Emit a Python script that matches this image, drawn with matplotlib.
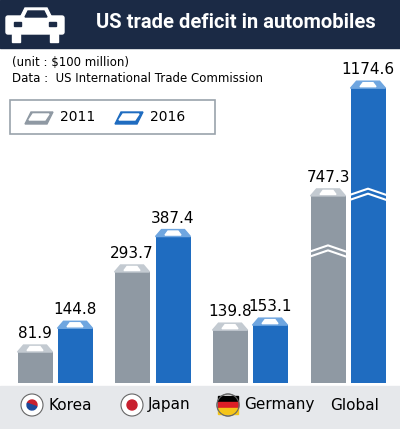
import matplotlib
matplotlib.use("Agg")
import matplotlib.pyplot as plt
from matplotlib.patches import Rectangle, Circle, FancyBboxPatch, Polygon, Wedge

countries = ["Korea", "Japan", "Germany", "Global"]
v2011 = [81.9, 293.7, 139.8, 747.3]
v2016 = [144.8, 387.4, 153.1, 1174.6]
labels_2011 = ["81.9", "293.7", "139.8", "747.3"]
labels_2016 = ["144.8", "387.4", "153.1", "1174.6"]

GREY = "#8f99a3"; GREY_TOP = "#c3cad1"
BLUE = "#1f6cc0"; BLUE_TOP = "#6fa6e0"
NAVY = "#1b2a45"

def disp(v):  # broken axis for large values
    return v if v <= 420 else 0.667 * v - 3.5

fig = plt.figure(figsize=(4.0, 4.29), dpi=100)
ov = fig.add_axes([0, 0, 1, 1]); ov.set_xlim(0, 400); ov.set_ylim(429, 0); ov.axis("off")
ov.add_patch(Rectangle((0, 0), 400, 48, color=NAVY))
ov.text(236, 22, "US trade deficit in automobiles", color="white", fontsize=14.5,
        fontweight="bold", ha="center", va="center", family="Roboto", stretch="condensed")
ov.add_patch(FancyBboxPatch((8, 18), 54, 14, boxstyle="round,pad=2", color="white"))
ov.add_patch(Polygon([(20, 18), (25, 8), (47, 8), (52, 18)], color="white"))
ov.add_patch(Polygon([(25, 17), (28, 11), (44, 11), (47, 17)], color=NAVY))
ov.add_patch(Rectangle((14, 22), 7, 4, color=NAVY)); ov.add_patch(Rectangle((49, 22), 7, 4, color=NAVY))
ov.add_patch(Rectangle((12, 34), 8, 8, color="white")); ov.add_patch(Rectangle((50, 34), 8, 8, color="white"))
ov.text(12, 62, "(unit : $100 million)", fontsize=8.5, va="center")
ov.text(12, 79, "Data :  US International Trade Commission", fontsize=8.5, va="center")
ov.add_patch(Rectangle((10, 100), 205, 34, fill=False, ec="#9aa3ab", lw=1.2))
for x, c, ct, t in [(25, GREY, GREY_TOP, "2011"), (115, BLUE, BLUE_TOP, "2016")]:
    ov.add_patch(Polygon([(x, 124), (x + 22, 124), (x + 28, 112), (x + 6, 112)], color=c))
    ov.add_patch(Polygon([(x + 4, 120), (x + 20, 120), (x + 24, 114), (x + 8, 114)], color="white"))
    ov.text(x + 35, 117, t, fontsize=10, va="center")
ov.add_patch(Rectangle((0, 386), 400, 43, color="#e6e8eb"))
for fx in [32, 132, 228]:
    ov.add_patch(Circle((fx, 405), 11, color="white", ec="#666", lw=0.8))
ov.add_patch(Wedge((32, 405), 5, 200, 20, color="#c8202f")); ov.add_patch(Wedge((32, 405), 5, 20, 200, color="#1d4a9a"))
ov.add_patch(Circle((132, 405), 5, color="#c8202f"))
ov.add_patch(Rectangle((218, 396), 20, 6, color="black")); ov.add_patch(Rectangle((218, 402), 20, 6, color="#dd1f26"))
ov.add_patch(Rectangle((218, 408), 20, 6, color="#f5c518"))
ov.add_patch(Circle((228, 405), 11, fill=False, ec="#666", lw=0.8))
for x, t in [(48, "Korea"), (148, "Japan"), (244, "Germany"), (330, "Global")]:
    ov.text(x, 405, t, fontsize=11, va="center")

base = 383; top_px = 60
ax = fig.add_axes([0, (429 - base) / 429, 1, (base - top_px) / 429])
ax.set_xlim(0, 400); ax.set_ylim(0, (base - top_px) / 0.378); ax.axis("off")
ax.patch.set_alpha(0)
upx = 1 / 0.378
centers = [(35, 75), (132, 173), (230, 270), (328, 368)]
w = 35
for i in range(4):
    for cx, v, lab, c, ct, yb in [(centers[i][0], v2011[i], labels_2011[i], GREY, GREY_TOP, 335),
                                  (centers[i][1], v2016[i], labels_2016[i], BLUE, BLUE_TOP, 485)]:
        h = disp(v)
        ax.bar(cx, h, width=w, color=c)
        d = 7 * upx
        ax.fill([cx - w / 2, cx + w / 2, cx + w / 2 - 6, cx - w / 2 + 6],
                [h, h, h + d, h + d], color=ct)
        ax.fill([cx - 8, cx + 8, cx + 5, cx - 5], [h + 1.5 * upx, h + 1.5 * upx, h + 5.5 * upx, h + 5.5 * upx],
                color="white")
        ax.text(cx, h + d + 4 * upx, lab, ha="center", va="bottom", fontsize=11)
        if v > 420:
            for off in (0, 5 * upx):
                ax.plot([cx - w / 2, cx, cx + w / 2], [yb + off, yb + off + 6 * upx, yb + off],
                        color="white", lw=1.5)
fig.savefig("out.png", dpi=100)
